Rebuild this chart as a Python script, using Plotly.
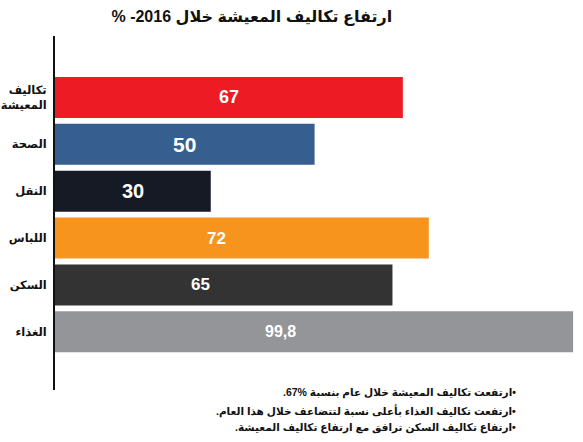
import plotly.graph_objects as go

categories = ["تكاليف<br>المعيشة", "الصحة", "النقل", "اللباس", "السكن", "الغذاء"]
values = [67, 50, 30, 72, 65, 99.8]
value_labels = ["67", "50", "30", "72", "65", "99,8"]
title_text = "ارتفاع تكاليف المعيشة خلال 2016- %"
notes = [
    "•ارتفعت تكاليف المعيشة خلال عام بنسبة %67.",
    "•ارتفعت تكاليف الغذاء بأعلى نسبة لتتضاعف خلال هذا العام.",
    "•ارتفاع تكاليف السكن ترافق مع ارتفاع تكاليف المعيشة.",
]

# styles
colors = ["#ED1C24", "#365E8F", "#151A24", "#F7941E", "#333333", "#939598"]
label_sizes = [18, 21, 20, 17, 17, 16]
label_frac = [0.5, 0.5, 0.5, 0.433, 0.43, 0.436]
FONT = "Liberation Sans, DejaVu Sans, Arial, sans-serif"
RLE, PDF = "\u202B", "\u202C"

idx = list(range(len(categories)))

fig = go.Figure()
fig.add_trace(go.Bar(
    x=values, y=idx, orientation="h",
    marker=dict(color=colors, line=dict(width=0)),
    hoverinfo="skip",
))

for i, (v, t) in enumerate(zip(values, value_labels)):
    fig.add_annotation(
        x=v * label_frac[i], y=i, xref="x", yref="y", text=t, showarrow=False,
        font=dict(family=FONT, size=label_sizes[i], color="white", weight="bold"),
        xanchor="center", yanchor="middle",
    )

note_y = [-0.006, -0.060, -0.107]
for t, yy in zip(notes, note_y):
    fig.add_annotation(
        x=0.877, y=yy, xref="paper", yref="paper", text=RLE + t + PDF,
        showarrow=False, xanchor="right", yanchor="middle",
        font=dict(family=FONT, size=10.5, color="#111111", weight="bold"),
    )

fig.update_layout(
    width=583, height=442,
    margin=dict(l=55, r=0, t=36, b=52),
    paper_bgcolor="white", plot_bgcolor="white",
    showlegend=False,
    bargap=0.125,
    title=dict(
        text=RLE + title_text + PDF, x=0.432, xanchor="center", y=0.962, yanchor="middle",
        font=dict(family=FONT, size=16, color="#111111", weight="bold"),
    ),
    xaxis=dict(range=[0, 101.7], visible=False, fixedrange=True),
    yaxis=dict(
        range=[6.24, -1.31], tickmode="array", tickvals=idx, ticktext=categories,
        showline=True, linecolor="#111111", linewidth=2, layer="below traces",
        showgrid=False, zeroline=False, ticks="", ticklabelstandoff=4,
        automargin=False,
        tickfont=dict(family=FONT, size=11.5, color="#111111", weight="bold"),
        fixedrange=True,
    ),
)

fig.write_html(
    "out.html",
    config={"displayModeBar": False, "staticPlot": True},
    post_script="document.body.style.margin='0';document.body.style.overflow='hidden';",
)
